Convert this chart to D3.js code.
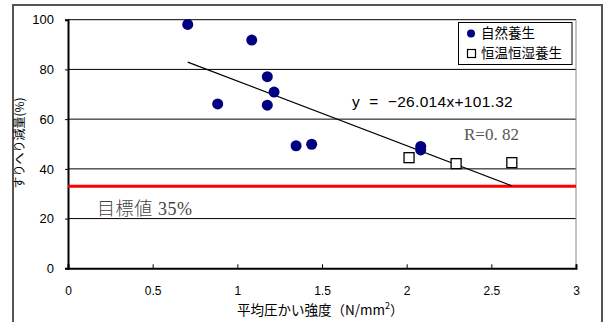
<!DOCTYPE html>
<html><head><meta charset="utf-8">
<script src="https://cdn.jsdelivr.net/npm/d3@7"></script>
<style>body{margin:0;background:#fff}svg{display:block}</style>
</head><body><svg id="c" width="608" height="322"></svg>
<script>
// data
const naturalX = [0.707, 1.085, 1.177, 1.217, 0.884, 1.177, 1.347, 1.439, 2.083, 2.083];
const naturalY = [98.1, 91.8, 77.1, 70.9, 66.1, 65.6, 49.3, 49.9, 49.0, 47.6];
const constX = [2.014, 2.292, 2.621];
const constY = [44.5, 42.1, 42.5];
const xTicks = [0, 0.5, 1, 1.5, 2, 2.5, 3];
const yTicks = [0, 20, 40, 60, 80, 100];
const slope = -26.014, intercept = 101.32;
const targetValue = 33;
const seriesNames = ["自然養生", "恒温恒湿養生"];

const svg = d3.select("#c");
const L = 68, R = 576, T = 19.7, B = 268.3;
const x = d3.scaleLinear().domain([0, 3]).range([L, R]);
const y = d3.scaleLinear().domain([0, 100]).range([B, T]);
const sans = "Arial, 'Liberation Sans', sans-serif";
const jp = "'Noto Sans CJK JP', sans-serif";

// outer border
svg.append("rect").attr("x", 13).attr("y", 5).attr("width", 589).attr("height", 330)
  .attr("fill", "#fff").attr("stroke", "#555").attr("stroke-width", 2);

// gridlines
svg.append("g").selectAll("line").data(yTicks.filter(d => d > 0)).join("line")
  .attr("x1", L).attr("x2", R).attr("y1", d => y(d)).attr("y2", d => y(d))
  .attr("stroke", "#000").attr("stroke-width", 1);
// right border
svg.append("line").attr("x1", R).attr("x2", R).attr("y1", T).attr("y2", B)
  .attr("stroke", "#888").attr("stroke-width", 1);

// axes
const xAxis = d3.axisBottom(x).tickValues(xTicks).tickSize(-4).tickPadding(18).tickFormat(d3.format("~g"));
const gx = svg.append("g").attr("transform", `translate(0,${B})`).call(xAxis);
gx.select(".domain").attr("stroke", "#000").attr("stroke-width", 2);
gx.selectAll("text").attr("font-family", sans).attr("font-size", 12).attr("fill", "#000");

const yAxis = d3.axisLeft(y).tickValues(yTicks).tickSize(3).tickPadding(11);
const gy = svg.append("g").attr("transform", `translate(${L},0)`).call(yAxis);
gy.select(".domain").attr("stroke", "#000").attr("stroke-width", 2);
gy.selectAll("text").attr("font-family", sans).attr("font-size", 13).attr("fill", "#000");

// target line
svg.append("line").attr("x1", L).attr("x2", R).attr("y1", y(targetValue)).attr("y2", y(targetValue))
  .attr("stroke", "#f00").attr("stroke-width", 3);

// trendline
const x0 = d3.min(naturalX.concat(constX)), x1 = d3.max(naturalX.concat(constX));
svg.append("line").attr("x1", x(x0)).attr("y1", y(slope * x0 + intercept))
  .attr("x2", x(x1)).attr("y2", y(slope * x1 + intercept))
  .attr("stroke", "#000").attr("stroke-width", 1.2);

// points
svg.append("g").selectAll("circle").data(naturalX.map((d, i) => [d, naturalY[i]])).join("circle")
  .attr("cx", d => x(d[0])).attr("cy", d => y(d[1])).attr("r", 5.5).attr("fill", "#000080");
svg.append("g").selectAll("rect").data(constX.map((d, i) => [d, constY[i]])).join("rect")
  .attr("x", d => x(d[0]) - 5).attr("y", d => y(d[1]) - 5).attr("width", 10).attr("height", 10)
  .attr("fill", "#fff").attr("stroke", "#000").attr("stroke-width", 1.3);

// texts
svg.append("text").attr("x", 352).attr("y", 107).attr("font-family", sans).attr("font-size", 15.5)
  .attr("letter-spacing", 0.3).attr("xml:space", "preserve").text("y  =  \u221226.014x+101.32");
svg.append("text").attr("x", 464).attr("y", 140).attr("font-family", "'Liberation Serif', 'DejaVu Serif', serif")
  .attr("font-size", 17).attr("fill", "#555").attr("xml:space", "preserve").text("R=0. 82");
svg.append("text").attr("x", 97).attr("y", 215).attr("font-family", "'Liberation Serif', 'Noto Sans CJK JP', serif")
  .attr("font-size", 18).attr("fill", "#444").attr("font-weight", 300).attr("letter-spacing", 0.6).text("目標値 35%");

// axis titles
const xt = svg.append("text").attr("x", 237).attr("y", 315).attr("font-family", jp).attr("font-size", 13.5);
xt.append("tspan").text("平均圧かい強度（N/mm");
xt.append("tspan").attr("font-size", 9).attr("dy", -6).text("2");
xt.append("tspan").attr("dy", 6).text("）");

svg.append("text").attr("transform", "translate(24,143) rotate(-90)").attr("text-anchor", "middle")
  .attr("font-family", jp).attr("font-size", 12).text("すりへり減量(%)");

// legend
svg.append("rect").attr("x", 458.5).attr("y", 22.5).attr("width", 113.5).attr("height", 42)
  .attr("fill", "#fff").attr("stroke", "#000").attr("stroke-width", 1);
svg.append("circle").attr("cx", 471).attr("cy", 33.5).attr("r", 4).attr("fill", "#000080");
svg.append("rect").attr("x", 467.5).attr("y", 49.5).attr("width", 8).attr("height", 8)
  .attr("fill", "#fff").attr("stroke", "#000").attr("stroke-width", 1.2);
svg.append("g").selectAll("text").data(seriesNames).join("text")
  .attr("x", 481).attr("y", (d, i) => 33.5 + i * 20).attr("dy", "0.35em")
  .attr("font-family", jp).attr("font-size", 13.5).text(d => d);
</script></body></html>
